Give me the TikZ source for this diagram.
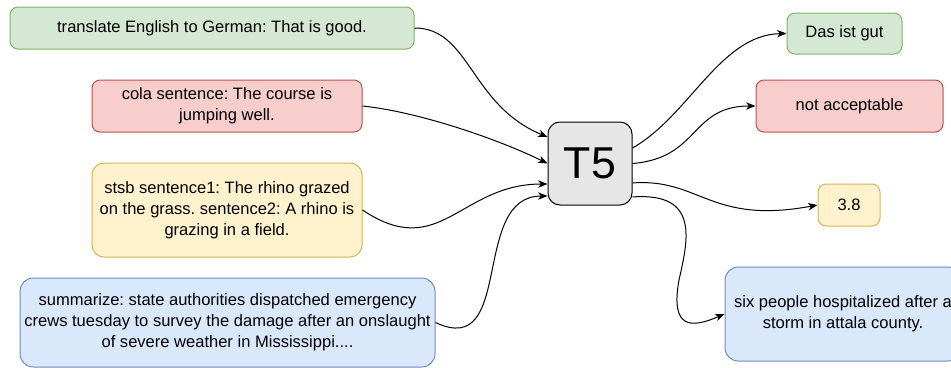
\documentclass[tikz,border=0pt]{standalone}
\usepackage{fontspec}
\setmainfont{Liberation Sans}
\usetikzlibrary{arrows.meta}
\frenchspacing

\definecolor{grnfill}{HTML}{D5E8D4}\definecolor{grnline}{HTML}{82B366}
\definecolor{redfill}{HTML}{F8CECC}\definecolor{redline}{HTML}{B85450}
\definecolor{ylwfill}{HTML}{FFF2CC}\definecolor{ylwline}{HTML}{D6B656}
\definecolor{blufill}{HTML}{DAE8FC}\definecolor{bluline}{HTML}{6C8EBF}
\definecolor{gryfill}{HTML}{E6E6E6}

\tikzset{
  box/.style args={#1/#2}{draw=#2, fill=#1, line width=0.75pt, rounded corners=6pt,
    inner sep=0pt, align=center, font=\fontsize{12.4}{15.75}\selectfont},
  wire/.style={line width=0.75pt, -{Stealth[length=7pt,width=5.5pt,inset=2pt]}},
}

\begin{document}
\begin{tikzpicture}[x=0.75pt, y=-0.75pt]
\clip (0,0) rectangle (951,368);
\fill[white] (0,0) rectangle (951,368);

% task prompts
\node[box=grnfill/grnline, minimum width=303pt, minimum height=31.5pt] (trans) at (212,28)
  {translate English to German: That is good.};
\node[box=redfill/redline, minimum width=202.5pt, minimum height=39pt] (cola) at (227,106)
  {cola sentence: The course is\\jumping well.};
\node[box=ylwfill/ylwline, minimum width=202.5pt, minimum height=70.5pt, rounded corners=9pt] (stsb) at (227,210)
  {stsb sentence1: The rhino grazed\\on the grass. sentence2: A rhino is\\grazing in a field.};
\node[box=blufill/bluline, minimum width=311.25pt, minimum height=66.75pt, rounded corners=10pt] (summ) at (227.5,322.5)
  {summarize: state authorities dispatched emergency\\crews tuesday to survey the damage after an onslaught\\of severe weather in Mississippi....};

% model
\node[box=gryfill/black, minimum width=63pt, minimum height=62.25pt, rounded corners=9pt,
  font=\fontsize{33.5}{36}\selectfont] (t5) at (590,163.5) {T5};

% model outputs
\node[box=grnfill/grnline, minimum width=86.25pt, minimum height=30.75pt] (das) at (844.5,33.5) {Das ist gut};
\node[box=redfill/redline, minimum width=140.25pt, minimum height=39pt] (notacc) at (849.5,106) {not acceptable};
\node[box=ylwfill/ylwline, minimum width=46.5pt, minimum height=31.5pt] (score) at (849,205) {3.8};
\node[box=blufill/bluline, minimum width=177pt, minimum height=70.5pt, rounded corners=10pt] (sumout) at (843,314)
  {six people hospitalized after a\\storm in attala county.};

% inputs into the model
\draw[wire] (trans.east) .. controls (470,28) and (470,105) .. ([yshift=19.9pt]t5.west);
\draw[wire] (cola.east) .. controls (420,112) and (500,140) .. (t5.west);
\draw[wire] (stsb.east) .. controls (440,262) and (460,184) .. ([yshift=-15.4pt]t5.west);
\draw[wire] (summ.east) .. controls (515,360) and (470,196) .. ([yshift=-24.4pt]t5.west);

% outputs from the model
\draw[wire] ([yshift=11.6pt]t5.east) .. controls (690,115) and (720,35) .. (das.west);
\draw[wire] (t5.east) .. controls (700,158) and (690,106) .. (notacc.west);
\draw[wire] ([yshift=-14.6pt]t5.east) .. controls (700,178) and (710,225) .. (score.west);
\draw[wire] ([yshift=-25.1pt]t5.east) .. controls (700,192) and (688,240) .. (679,280)
  .. controls (670,330) and (692,328) .. (sumout.west);
\end{tikzpicture}
\end{document}
